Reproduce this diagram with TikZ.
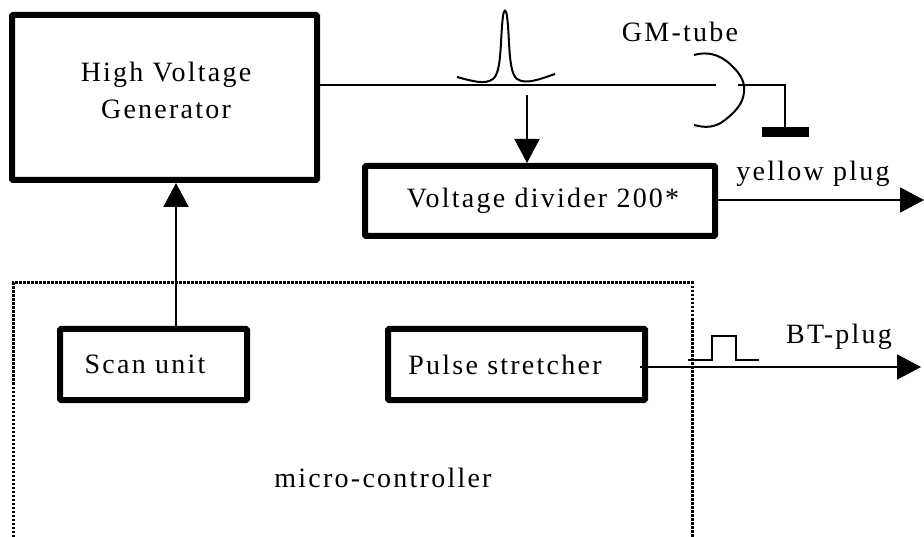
\documentclass[tikz,border=0pt]{standalone}
\usepackage{fontspec}
\setmainfont[LetterSpace=8]{Liberation Serif}
\usetikzlibrary{arrows.meta}
\tikzset{
  blockbox/.style={draw,line width=6pt,rounded corners=1pt,inner sep=0pt,align=center,font=\fontsize{28}{37}\selectfont},
  lbl/.style={inner sep=0pt,align=center,font=\fontsize{28}{37}\selectfont},
  wire/.style={line width=2pt},
  arrowwire/.style={wire,-{Triangle[length=24pt,width=25pt]}},
}
\begin{document}
\begin{tikzpicture}[x=1pt,y=-1pt]
\useasboundingbox (0,0) rectangle (924,537);
% boxes
\node[blockbox,minimum width=305pt,minimum height=165pt] (hvgen) at (164.5,97.5) {};
\node[lbl] (hvtext) at (166,90) {High Voltage\\Generator};
\node[blockbox,minimum width=350pt,minimum height=70pt] (divider) at (540,201) {\hspace*{6pt}Voltage divider 200*};
\node[blockbox,minimum width=187pt,minimum height=71pt] (scan) at (153.5,364.5) {Scan unit\hspace*{17pt}};
\node[blockbox,minimum width=257pt,minimum height=71pt] (stretcher) at (516.5,364.5) {Pulse stretcher\hspace*{23pt}};
% micro-controller area, open at the bottom
\draw[line width=3pt,dash pattern=on 2.5pt off 1.5pt] (13,537) -- (13,283) -- (692,283) -- (692,537);
\node[lbl] (micro) at (383,478) {micro-controller};
% labels
\node[lbl] (gmlabel) at (680,32) {GM-tube};
\node[lbl] (yellow) at (813,174) {yellow plug};
\node[lbl] (btplug) at (839,337) {BT-plug};
% free ends
\coordinate (tubein) at (716,85);
\coordinate (tubeout) at (738,85);
\coordinate (gnd) at (785,127);
\coordinate (tap) at (527,95);
\coordinate (yellowend) at (924,200);
\coordinate (btstart) at (640,367);
\coordinate (btend) at (921,367);
% connectors
\draw[wire] (hvgen.east |- tubein) -- (tubein);
\draw[wire] (tubeout) -| (gnd);
\draw[arrowwire] (tap) -- (tap |- divider.north);
\draw[arrowwire] (scan.north -| 176,0) -- (hvgen.south -| 176,0);
\draw[arrowwire] (divider.east |- yellowend) -- (yellowend);
\draw[arrowwire] (btstart) -- (btend);
% GM tube and ground
\draw[wire] (694,55) .. controls (712,50) and (725,58) .. (734,68) .. controls (742,76) and (745,84) .. (744,92) .. controls (743,104) and (735,112) .. (725,120) .. controls (715,128) and (705,128) .. (694,125);
\fill (762,127) rectangle (809,137);
% pulses
\draw[wire] (457,77) .. controls (472,81) and (485,85) .. (493,79) .. controls (502,72) and (500,40) .. (503,16) .. controls (504,9) and (506,9) .. (507,16) .. controls (510,40) and (508,72) .. (517,79) .. controls (526,85) and (540,79) .. (555,74);
\draw[wire] (688,360) -- (712,360) -- (712,336) -- (736,336) -- (736,360) -- (759,360);
\end{tikzpicture}
\end{document}
